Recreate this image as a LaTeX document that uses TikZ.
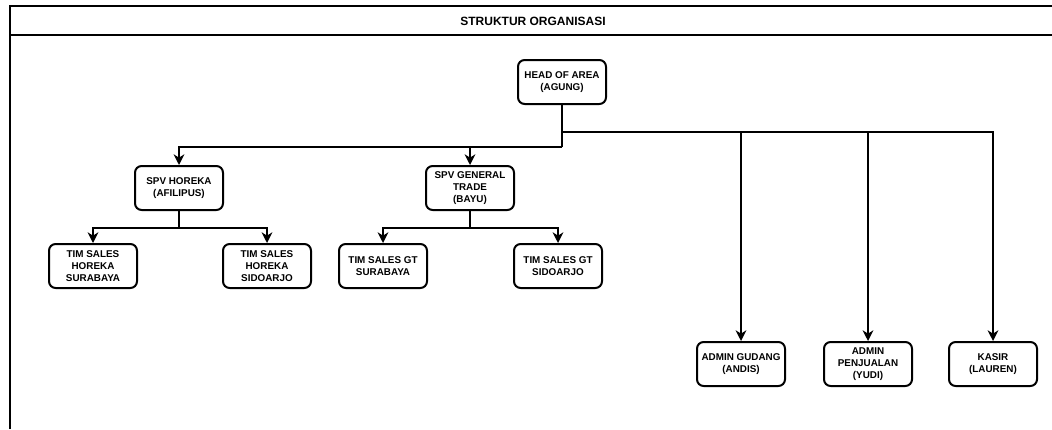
\documentclass[tikz,border=0pt]{standalone}
\usepackage{fontspec}
\setmainfont{Liberation Sans}
\usetikzlibrary{arrows.meta,positioning}

\tikzset{
  orgbox/.style={draw, line width=1.5pt, rounded corners=5pt, minimum width=66pt, minimum height=33pt,
    align=center, inner sep=1pt, font=\fontsize{7.4}{8.8}\selectfont\bfseries},
  link/.style={line width=1.5pt},
  arr/.style={link, -{Stealth[length=8pt,width=8pt,inset=2.5pt]}}
}

\begin{document}
\begin{tikzpicture}[x=0.75pt,y=0.75pt,yscale=-1,xscale=1]
\useasboundingbox (0,0) rectangle (1052,429);

% Frame and title
\draw[link] (10,429) -- (10,6) -- (1052,6);
\draw[link] (10,35) -- (1052,35);
\node[font=\fontsize{9}{10}\selectfont\bfseries] (title) at (533,21) {STRUKTUR ORGANISASI};

% Boxes
\node[orgbox] (head) at (562,82) {HEAD OF AREA\\(AGUNG)};
\node[orgbox] (horeka) at (179,188) {SPV HOREKA\\(AFILIPUS)};
\node[orgbox] (gt) at (470,188) {SPV GENERAL\\TRADE\\(BAYU)};
\node[orgbox] (horsby) at (93,266) {TIM SALES\\HOREKA\\SURABAYA};
\node[orgbox] (horsda) at (267,266) {TIM SALES\\HOREKA\\SIDOARJO};
\node[orgbox] (gtsby) at (383,266) {TIM SALES GT\\SURABAYA};
\node[orgbox] (gtsda) at (558,266) {TIM SALES GT\\SIDOARJO};
\node[orgbox] (gudang) at (741,364) {ADMIN GUDANG\\(ANDIS)};
\node[orgbox] (penjualan) at (868,364) {ADMIN\\PENJUALAN\\(YUDI)};
\node[orgbox] (kasir) at (993,364) {KASIR\\(LAUREN)};

% Split points
\coordinate (lsplit) at (562,147);
\coordinate (rsplit) at (562,132);
\coordinate (hsplit) at (179,228);
\coordinate (gsplit) at (470,228);

% Connectors
\draw[link] (head.south) -- (lsplit);
\draw[arr] (lsplit) -| (horeka.north);
\draw[arr] (lsplit) -| (gt.north);
\draw[arr] (rsplit) -| (gudang.north);
\draw[arr] (rsplit) -| (penjualan.north);
\draw[arr] (rsplit) -| (kasir.north);

\draw[link] (horeka.south) -- (hsplit);
\draw[arr] (hsplit) -| (horsby.north);
\draw[arr] (hsplit) -| (horsda.north);
\draw[link] (gt.south) -- (gsplit);
\draw[arr] (gsplit) -| (gtsby.north);
\draw[arr] (gsplit) -| (gtsda.north);

\end{tikzpicture}
\end{document}
